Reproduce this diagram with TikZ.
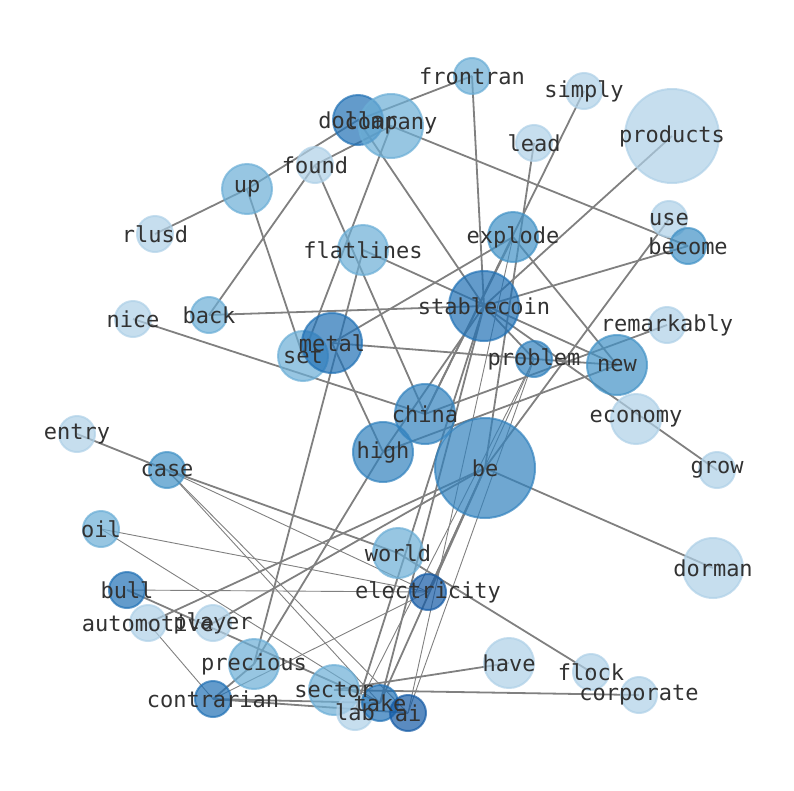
\documentclass[tikz,border=0pt]{standalone}
\usepackage{fontspec}
\newfontfamily\labfont{DejaVu Sans Mono}
\definecolor{cA}{RGB}{174,208,231}
\definecolor{cB}{RGB}{107,174,214}
\definecolor{cC}{RGB}{66,146,198}
\definecolor{cD}{RGB}{50,130,190}
\definecolor{cE}{RGB}{33,113,181}
\definecolor{cF}{RGB}{20,90,165}
\definecolor{edgegray}{RGB}{128,128,128}
\definecolor{labgray}{RGB}{50,50,50}
\begin{document}
\begin{tikzpicture}[x=1pt,y=-1pt,
  ed/.style={draw=edgegray,line width=1.8pt},
  edthin/.style={draw=edgegray,line width=0.9pt},
  lbl/.style={font=\labfont\fontsize{22}{26}\selectfont,text=labgray,inner sep=0pt}]
\useasboundingbox (0,0) rectangle (794,790);
\foreach \n/\x/\y in {frontran/472/76, simply/584/91, products/672/136, dollar/358/120,
  company/391/126, lead/534/143, found/315/165, up/247/189, rlusd/155/234, use/669/219,
  become/688/246, explode/513/237, flatlines/363/250, stablecoin/484/306, nice/133/319,
  back/209/315, remarkably/667/325, metal/332/343, set/303/356, problem/534/359,
  new/617/365, china/425/414, economy/636/419, entry/77/434, high/383/452, be/485/468,
  case/167/470, grow/717/470, oil/101/529, world/398/553, dorman/713/568, bull/127/590,
  electricity/428/592, automotive/148/623, player/213/623, precious/254/664, have/509/663,
  flock/591/672, contrarian/213/699, sector/334/690, take/380/703, corporate/639/695,
  lab/355/712, ai/408/713}
  {\coordinate (\n) at (\x,\y);}
% connectors
\foreach \a/\b in {frontran/dollar, dollar/up, up/rlusd, found/company, found/back,
  found/china, up/set, company/set, company/become, dollar/stablecoin, frontran/stablecoin,
  lead/be, simply/china, products/stablecoin, stablecoin/become, back/stablecoin,
  explode/metal, explode/new, explode/china, flatlines/precious,
  flatlines/new, metal/high, metal/problem, problem/new, nice/china, china/remarkably,
  high/new, be/use, be/dorman, stablecoin/grow, stablecoin/problem, stablecoin/high,
  stablecoin/take, stablecoin/lab, be/take, be/electricity, precious/high,
  automotive/be, player/be, entry/case, case/world, world/flock, bull/take,
  contrarian/precious, contrarian/take, contrarian/ai, sector/have, sector/corporate}
  {\draw[ed] (\a) -- (\b);}
\foreach \a/\b in {explode/ai, problem/ai, problem/lab, problem/electricity, case/electricity,
  case/take, case/ai, oil/electricity, oil/take, bull/electricity, automotive/contrarian,
  contrarian/electricity}
  {\draw[edthin] (\a) -- (\b);}
% node circles
\foreach \n/\r/\c in {frontran/18/cB, simply/18/cA, products/47/cA, dollar/25/cE,
  company/32/cB, lead/18/cA, found/18/cA, up/25/cB, rlusd/18/cA, use/18/cA, become/18/cC,
  explode/25/cC, flatlines/25/cB, stablecoin/35/cE, nice/18/cA, back/18/cB,
  remarkably/18/cA, set/25/cB, metal/30/cE, problem/18/cD, new/30/cC, china/30/cD,
  economy/25/cA, entry/18/cA, high/30/cD, be/50/cD, case/18/cC, grow/18/cA, oil/18/cB,
  world/25/cB, dorman/30/cA, bull/18/cE, electricity/18/cF, automotive/18/cA,
  player/18/cA, precious/25/cB, have/25/cA, flock/18/cA, contrarian/18/cE, sector/25/cB,
  lab/18/cA, take/18/cE, corporate/18/cA, ai/18/cF}
  {\draw[line width=2pt,draw=\c,fill=\c,fill opacity=0.7,draw opacity=0.7] (\n) circle (\r pt);}
% labels
\foreach \n in {frontran, simply, products, dollar, company, lead, found, up, rlusd, use,
  become, explode, flatlines, stablecoin, nice, back, remarkably, metal, set, problem, new,
  china, economy, entry, high, be, case, grow, oil, world, dorman, bull, electricity,
  automotive, player, precious, have, flock, contrarian, sector, take, corporate, lab, ai}
  {\node[lbl] (t-\n) at (\n) {\n};}
\end{tikzpicture}
\end{document}
